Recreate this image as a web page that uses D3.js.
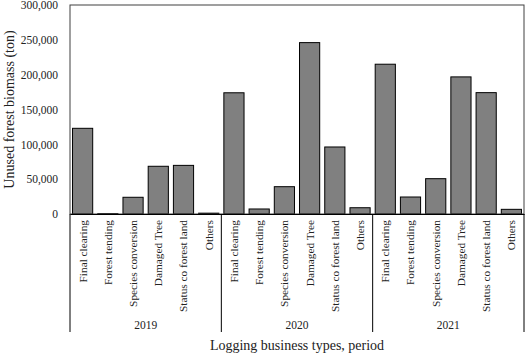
<!DOCTYPE html>
<html>
<head>
<meta charset="utf-8">
<script src="https://cdn.jsdelivr.net/npm/d3@7"></script>
<style>
  html, body { margin: 0; padding: 0; background: #fff; }
  svg { display: block; font-family: "Liberation Serif", "Times New Roman", serif; }
</style>
</head>
<body>
<svg id="chart" width="526" height="358"></svg>
<script>
const categories = ["Final clearing", "Forest tending", "Species conversion", "Damaged Tree", "Status co forest land", "Others"];
const years = ["2019", "2020", "2021"];
const values2019 = [123000, 500, 24000, 68500, 69800, 1200];
const values2020 = [174000, 7200, 39200, 246000, 96200, 9000];
const values2021 = [215000, 24400, 50700, 196800, 174200, 6700];
const yTicks = [0, 50000, 100000, 150000, 200000, 250000, 300000];
const yTitle = "Unused forest biomass (ton)";
const xTitle = "Logging business types, period";

const seriesByYear = [values2019, values2020, values2021];
const rows = [];
years.forEach((yr, i) => {
  categories.forEach((c, j) => {
    rows.push({ key: yr + "|" + c, year: yr, cat: c, value: seriesByYear[i][j] });
  });
});

const svg = d3.select("#chart");
const mLeft = 70, mRight = 524, mTop = 5, mBottom = 214;

const x = d3.scaleBand().domain(rows.map(d => d.key)).range([mLeft, mRight])
  .paddingInner(0.2).paddingOuter(0.1);
const y = d3.scaleLinear().domain([0, 300000]).range([mBottom, mTop]);

// bars
svg.append("g").selectAll("rect").data(rows).join("rect")
  .attr("x", d => x(d.key))
  .attr("y", d => y(d.value))
  .attr("width", x.bandwidth())
  .attr("height", d => y(0) - y(d.value))
  .attr("fill", "#808080")
  .attr("stroke", "#000")
  .attr("stroke-width", 1);

// frame
svg.append("rect")
  .attr("x", mLeft).attr("y", mTop)
  .attr("width", mRight - mLeft).attr("height", mBottom - mTop)
  .attr("fill", "none").attr("stroke", "#404040").attr("stroke-width", 1);

// y axis
const yAxis = d3.axisLeft(y).tickValues(yTicks).tickSize(0).tickPadding(12)
  .tickFormat(d3.format(","));
const gy = svg.append("g").attr("transform", `translate(${mLeft},0)`).call(yAxis);
gy.select(".domain").remove();
gy.selectAll("text").attr("font-size", "11.5px").attr("fill", "#222")
  .style("font-family", "Liberation Serif, serif");

// x axis category labels
const xAxis = d3.axisBottom(x).tickSize(0).tickFormat(k => k.split("|")[1]);
const gx = svg.append("g").attr("transform", `translate(0,${mBottom})`).call(xAxis);
gx.select(".domain").attr("stroke", "#000");
gx.selectAll(".tick text")
  .attr("font-size", "11.3px").attr("fill", "#222")
  .style("font-family", "Liberation Serif, serif")
  .attr("text-anchor", "end")
  .attr("transform", "rotate(-90)")
  .attr("x", -6).attr("y", 0).attr("dy", "0.35em");

// group dividers and year labels
const step = x.step();
const groupEdges = years.map((yr) => x(yr + "|" + categories[0]) - step * x.paddingOuter());
groupEdges.push(mRight);
svg.append("g").selectAll("line").data(groupEdges).join("line")
  .attr("x1", d => d).attr("x2", d => d)
  .attr("y1", mBottom).attr("y2", 332)
  .attr("stroke", "#000").attr("stroke-width", 1);

svg.append("g").selectAll("text").data(years).join("text")
  .attr("x", (d, i) => (groupEdges[i] + groupEdges[i + 1]) / 2)
  .attr("y", 329)
  .attr("text-anchor", "middle")
  .attr("font-size", "11.5px").attr("fill", "#222")
  .text(d => d);

// titles
svg.append("text")
  .attr("x", (mLeft + mRight) / 2).attr("y", 350)
  .attr("text-anchor", "middle").attr("font-size", "14px").attr("fill", "#222")
  .text(xTitle);

svg.append("text")
  .attr("transform", `translate(9,${(mTop + mBottom) / 2}) rotate(-90)`)
  .attr("text-anchor", "middle").attr("dy", "0.35em")
  .attr("font-size", "14px").attr("fill", "#222")
  .text(yTitle);
</script>
</body>
</html>
